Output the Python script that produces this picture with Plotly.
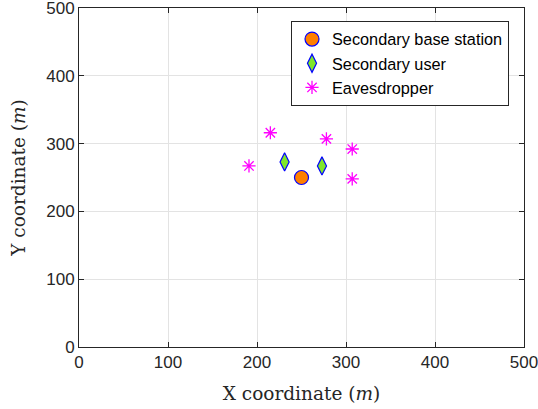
import plotly.graph_objects as go

# Data
bs_x = [250]
bs_y = [250]
su_x = [231, 273]
su_y = [273, 267]
ev_x = [191, 215, 278, 307, 307]
ev_y = [267, 316, 307, 292, 248]

x_ticks = [0, 100, 200, 300, 400, 500]
y_ticks = [0, 100, 200, 300, 400, 500]

fig = go.Figure()
fig.add_trace(go.Scatter(
    x=bs_x, y=bs_y, mode="markers", name="Secondary base station",
    marker=dict(symbol="circle", size=14, color="#FF7F00",
                line=dict(color="#0000FF", width=1.2))))
fig.add_trace(go.Scatter(
    x=su_x, y=su_y, mode="markers", name="Secondary user",
    marker=dict(symbol="diamond-tall", size=13, color="#7FE62A",
                line=dict(color="#0000FF", width=1.2))))
fig.add_trace(go.Scatter(
    x=ev_x, y=ev_y, mode="markers", name="Eavesdropper",
    marker=dict(symbol="asterisk-open", size=11, color="#FF00FF",
                line=dict(color="#FF00FF", width=1.3))))

axis_common = dict(
    showgrid=True, gridcolor="#E3E3E3", gridwidth=1,
    showline=True, linecolor="#262626", linewidth=1, mirror="ticks",
    ticks="inside", ticklen=5, tickcolor="#262626",
    tickfont=dict(family="Liberation Sans, Arial, sans-serif", size=17, color="#262626"),
    zeroline=False, range=[0, 500], automargin=False,
    ticklabeloverflow="allow",
)

title_font = dict(family="DejaVu Serif, serif", size=18.5, color="#262626")

fig.update_layout(
    width=538, height=409,
    margin=dict(l=79, r=14, t=8, b=62),
    paper_bgcolor="white", plot_bgcolor="white",
    showlegend=True,
    legend=dict(
        x=0.9663, y=0.9617, xanchor="right", yanchor="top",
        bgcolor="white", bordercolor="#262626", borderwidth=1,
        font=dict(family="Liberation Sans, Arial, sans-serif", size=16.3, color="#000000"),
        tracegroupgap=0, itemsizing="trace",
    ),
)
fig.update_xaxes(**axis_common, tickvals=x_ticks,
                 title=dict(text="X coordinate (<i>m</i>)", font=title_font))
fig.update_yaxes(**axis_common, tickvals=y_ticks,
                 title=dict(text="Y coordinate (<i>m</i>)", font=title_font))

fig.write_html("out.html")
